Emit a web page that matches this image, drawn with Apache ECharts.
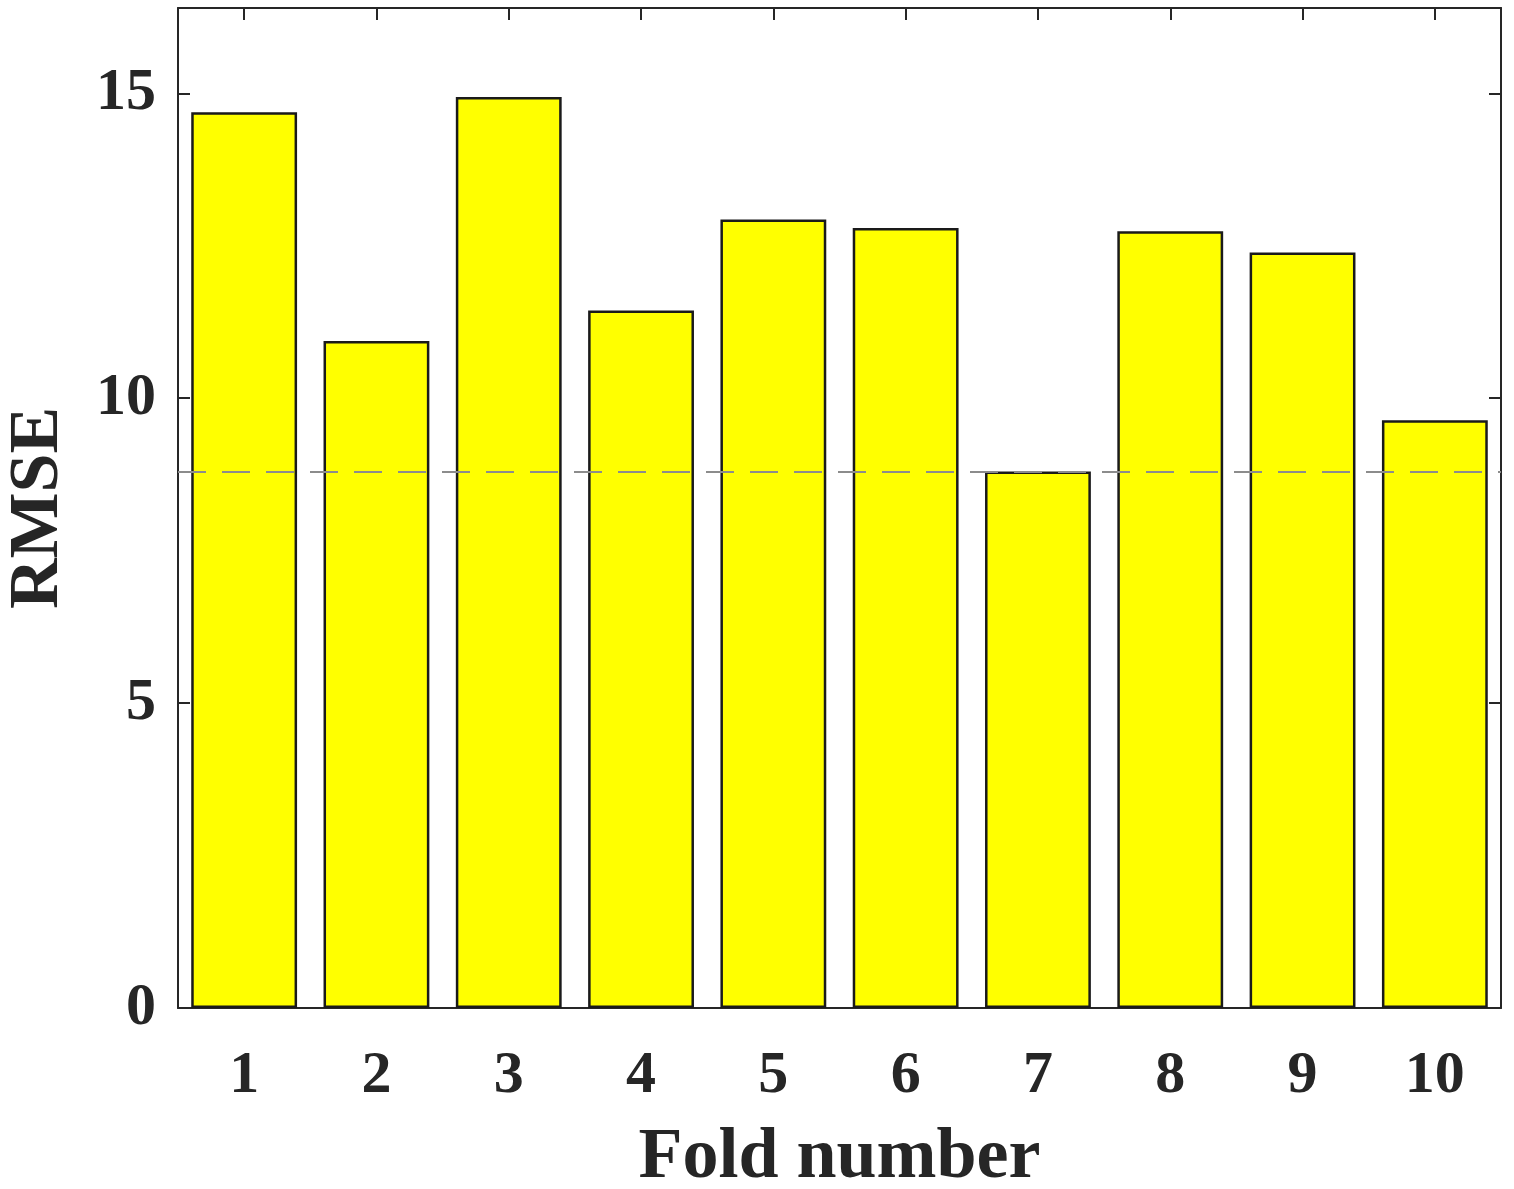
<!DOCTYPE html>
<html>
<head>
<meta charset="utf-8">
<script src="https://cdn.jsdelivr.net/npm/echarts@6/dist/echarts.min.js"></script>
<style>html,body{margin:0;padding:0;background:#fff;}#c{width:1514px;height:1189px;}</style>
</head>
<body>
<div id="c"></div>
<script>
const categories = ['1','2','3','4','5','6','7','8','9','10'];
const rmse = [14.69, 10.94, 14.94, 11.44, 12.93, 12.79, 8.80, 12.74, 12.39, 9.64];
const meanLine = 8.80;
const yTicks = [0, 5, 10, 15];

const font = '"Liberation Serif", "Times New Roman", serif';
const chart = echarts.init(document.getElementById('c'));
chart.setOption({
  animation: false,
  backgroundColor: '#fff',
  grid: { left: 178, right: 13, top: 8, bottom: 181, containLabel: false, outerBoundsMode: 'none' },
  xAxis: [{
    type: 'category', data: categories, position: 'bottom',
    name: 'Fold number', nameLocation: 'middle', nameGap: 114,
    nameTextStyle: { fontFamily: font, fontWeight: 'bold', fontSize: 72, color: '#262626' },
    axisLine: { show: true, lineStyle: { color: '#262626', width: 2 } },
    axisTick: { show: true, inside: true, alignWithLabel: true, length: 12, lineStyle: { color: '#262626', width: 2 } },
    axisLabel: { fontFamily: font, fontWeight: 'bold', fontSize: 60, color: '#262626', margin: 38 },
    splitLine: { show: false }
  }, {
    type: 'category', data: categories, position: 'top',
    axisLine: { show: true, onZero: false, lineStyle: { color: '#262626', width: 2 } },
    axisTick: { show: true, inside: true, alignWithLabel: true, length: 12, lineStyle: { color: '#262626', width: 2 } },
    axisLabel: { show: false },
    splitLine: { show: false }
  }],
  yAxis: [{
    type: 'value', min: 0, max: 16.4, interval: 5, position: 'left',
    name: 'RMSE', nameLocation: 'middle', nameGap: 104, nameRotate: 90,
    nameTextStyle: { fontFamily: font, fontWeight: 'bold', fontSize: 70, color: '#262626' },
    axisLine: { show: true, lineStyle: { color: '#262626', width: 2 } },
    axisTick: { show: true, inside: true, length: 12, lineStyle: { color: '#262626', width: 2 } },
    axisLabel: { fontFamily: font, fontWeight: 'bold', fontSize: 60, color: '#262626', margin: 22,
      showMaxLabel: false,
      formatter: v => yTicks.includes(v) ? String(v) : '' },
    splitLine: { show: false }
  }, {
    type: 'value', min: 0, max: 16.4, interval: 5, position: 'right',
    axisLine: { show: true, onZero: false, lineStyle: { color: '#262626', width: 2 } },
    axisTick: { show: true, inside: true, length: 12, lineStyle: { color: '#262626', width: 2 } },
    axisLabel: { show: false },
    splitLine: { show: false }
  }],
  series: [{
    type: 'bar', data: rmse, barWidth: '80%',
    itemStyle: { color: '#FFFF00', borderColor: '#1a1a1a', borderWidth: 2.5 },
    markLine: {
      silent: true, symbol: ['none', 'none'], label: { show: false },
      lineStyle: { color: '#8c8c8c', type: [28, 16], width: 2 },
      data: [{ yAxis: meanLine }]
    }
  }]
});
</script>
</body>
</html>
